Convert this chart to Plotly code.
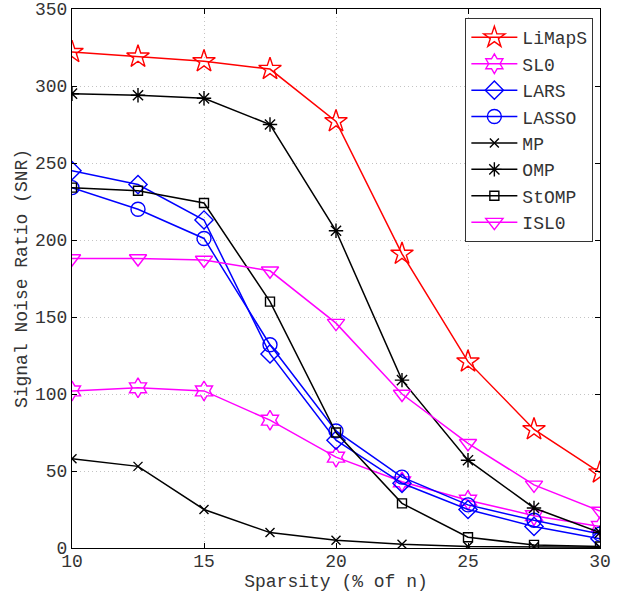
import plotly.graph_objects as go

sparsity = [10, 12.5, 15, 17.5, 20, 22.5, 25, 27.5, 30]

limaps = [322, 319, 316, 311, 277, 191, 121, 77, 49]
sl0 = [102, 104, 102, 83, 59, 43, 31, 21, 14]
lars = [245, 236, 213, 126, 70, 42, 25, 14, 6]
lasso = [234, 220, 201, 132, 76, 46, 28, 18, 9]
mp = [58, 53, 25, 10, 5, 2.5, 1, 0.8, 0.5]
omp = [295, 294, 292, 275, 206, 109, 57, 26, 10]
stomp = [234, 232, 224, 160, 75, 29, 7, 2, 1]
isl0 = [188, 188, 187, 180, 146, 100, 68, 41, 24]

x_ticks = [10, 15, 20, 25, 30]
y_ticks = [0, 50, 100, 150, 200, 250, 300, 350]

series = [
    ("LiMapS", limaps, "#ff0000", "star-open", 17),
    ("SL0", sl0, "#ff00ff", "hexagram-open", 15),
    ("LARS", lars, "#0000ff", "diamond-open", 14),
    ("LASSO", lasso, "#0000ff", "circle-open", 14),
    ("MP", mp, "#000000", "x-thin-open", 9),
    ("OMP", omp, "#000000", "asterisk-open", 12),
    ("StOMP", stomp, "#000000", "square-open", 9),
    ("ISL0", isl0, "#ff00ff", "triangle-down-open", 15),
]

fig = go.Figure()
for i, (name, vals, color, sym, size) in enumerate(series):
    fig.add_trace(go.Scatter(
        x=sparsity, y=vals, name=name, mode="lines+markers",
        line=dict(color=color, width=1.5),
        marker=dict(symbol=sym, size=size, color=color,
                    line=dict(color=color, width=1.4)),
    ))

font = "Liberation Mono, Courier New, monospace"
axis_common = dict(
    showline=True, linecolor="black", linewidth=1, mirror="ticks",
    ticks="inside", ticklen=5, tickcolor="black",
    showgrid=True, gridcolor="#c4c4c4", griddash="1px,3px", gridwidth=1,
    zeroline=False, automargin=False,
    tickfont=dict(family=font, size=18, color="#333"),
)

fig.update_layout(
    width=619, height=592,
    margin=dict(l=72, r=19, t=9, b=44),
    paper_bgcolor="white", plot_bgcolor="white",
    font=dict(family=font, color="#333"),
    xaxis=dict(range=[10, 30], tickvals=x_ticks, ticklabelstandoff=-4,
               title=dict(text="Sparsity (% of n)", font=dict(family=font, size=18), standoff=0),
               **axis_common),
    yaxis=dict(range=[0, 350], tickvals=y_ticks,
               title=dict(text="Signal Noise Ratio (SNR)", font=dict(family=font, size=18), standoff=2),
               **axis_common),
    legend=dict(x=0.745, y=0.983, xanchor="left", yanchor="top",
                bgcolor="white", bordercolor="#333", borderwidth=1,
                font=dict(family=font, size=18, color="#333"),
                itemwidth=46, itemsizing="trace"),
    showlegend=True,
)

fig.write_html("out.html", config={"displayModeBar": False},
               post_script="document.body.style.margin='0';")
